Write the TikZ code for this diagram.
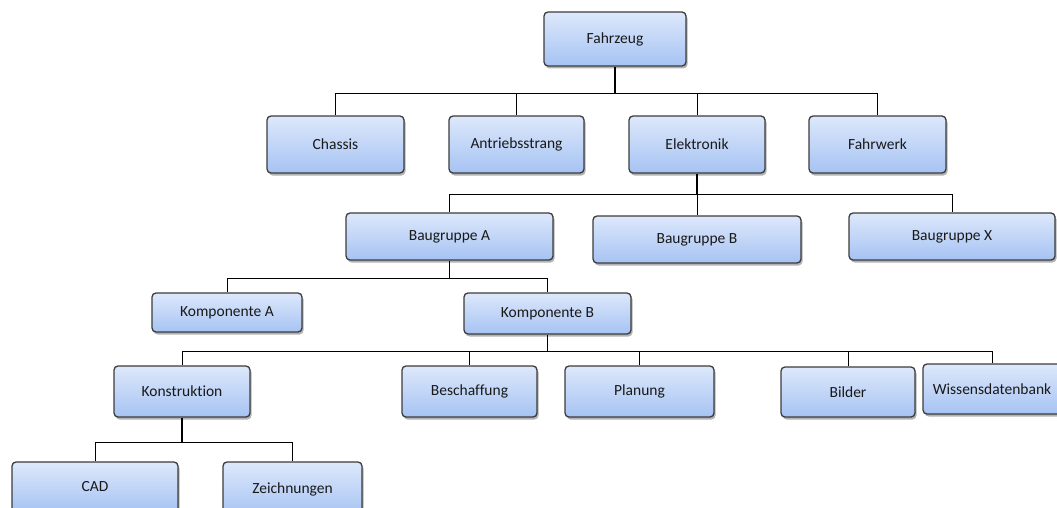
\documentclass[tikz,border=0pt]{standalone}
\usepackage{fontspec}
\setmainfont[Ligatures=NoCommon]{Carlito}
\usetikzlibrary{shadows}
\definecolor{boxtop}{HTML}{DDE8FB}
\definecolor{boxbot}{HTML}{A6C3F3}
\definecolor{boxline}{HTML}{3C3C3C}
\begin{document}
\begin{tikzpicture}[x=1pt,y=-1pt,
  orgbox/.style={draw=boxline, line width=1.3pt, rounded corners=4pt,
    top color=boxtop, bottom color=boxbot, inner sep=0pt,
    text=black!90, font=\fontsize{15.5}{17}\selectfont,
    drop shadow={shadow xshift=1.5pt, shadow yshift=-2.5pt, opacity=0.3, fill=black}},
  wire/.style={draw=black, line width=0.8pt},
  trunk/.style={draw=black, line width=1.6pt}]
\useasboundingbox (0,0) rectangle (1057,508);
\begin{scope}
\clip (0,0) rectangle (1057,508);

% top level
\node[orgbox, minimum width=142, minimum height=54] (fz) at (615,39) {Fahrzeug};

% first level
\node[orgbox, minimum width=137, minimum height=57] (chassis) at (335.5,144.5) {Chassis};
\node[orgbox, minimum width=135, minimum height=57] (antrieb) at (516.5,144.5) {Antriebsstrang};
\node[orgbox, minimum width=136, minimum height=57] (elek) at (697,144.5) {Elektronik};
\node[orgbox, minimum width=137, minimum height=57] (fahrwerk) at (877.5,144.5) {Fahrwerk};

% assemblies
\node[orgbox, minimum width=207, minimum height=47] (bga) at (449.5,236.5) {Baugruppe A};
\node[orgbox, minimum width=208, minimum height=47] (bgb) at (697,239.5) {Baugruppe B};
\node[orgbox, minimum width=206, minimum height=47] (bgx) at (952,236.5) {Baugruppe X};

% components
\node[orgbox, minimum width=150, minimum height=39] (ka) at (227,312.5) {Komponente A};
\node[orgbox, minimum width=167, minimum height=41] (kb) at (547.5,313.5) {Komponente B};

% component B topics
\node[orgbox, minimum width=136, minimum height=51] (konst) at (182,391.5) {Konstruktion};
\node[orgbox, minimum width=135, minimum height=51] (besch) at (469.5,391.5) {Beschaffung};
\node[orgbox, minimum width=149, minimum height=51] (plan) at (639.5,391.5) {Planung};
\node[orgbox, minimum width=134, minimum height=50] (bilder) at (848,392) {Bilder};
\node[orgbox, minimum width=138, minimum height=50] (wissen) at (992,389) {Wissensdatenbank};

% design documents
\node[orgbox, minimum width=166, minimum height=50] (cad) at (95,487) {CAD};
\node[orgbox, minimum width=139, minimum height=54] (zeich) at (292.5,489) {Zeichnungen};
\end{scope}

% connectors: Fahrzeug
\coordinate (busa) at (615,93);
\draw[trunk] (fz.south) -- (busa);
\foreach \c in {chassis,antrieb,elek,fahrwerk}
  \draw[wire] (\c.north) |- (busa);

% connectors: Elektronik
\coordinate (busb) at (697,194);
\draw[wire, line width=1.1pt] (elek.south) -- (busb);
\foreach \c in {bga,bgb,bgx}
  \draw[wire] (\c.north) |- (busb);

% connectors: Baugruppe A
\coordinate (busc) at (449.5,278);
\draw[wire, line width=1.1pt] (bga.south) -- (busc);
\foreach \c in {ka,kb}
  \draw[wire] (\c.north) |- (busc);

% connectors: Komponente B
\coordinate (busd) at (547.5,351);
\draw[trunk] (kb.south) -- (busd);
\foreach \c in {konst,besch,plan,bilder,wissen}
  \draw[wire] (\c.north) |- (busd);

% connectors: Konstruktion
\coordinate (buse) at (182,442);
\draw[trunk] (konst.south) -- (buse);
\foreach \c in {cad,zeich}
  \draw[wire] (\c.north) |- (buse);
\end{tikzpicture}
\end{document}
